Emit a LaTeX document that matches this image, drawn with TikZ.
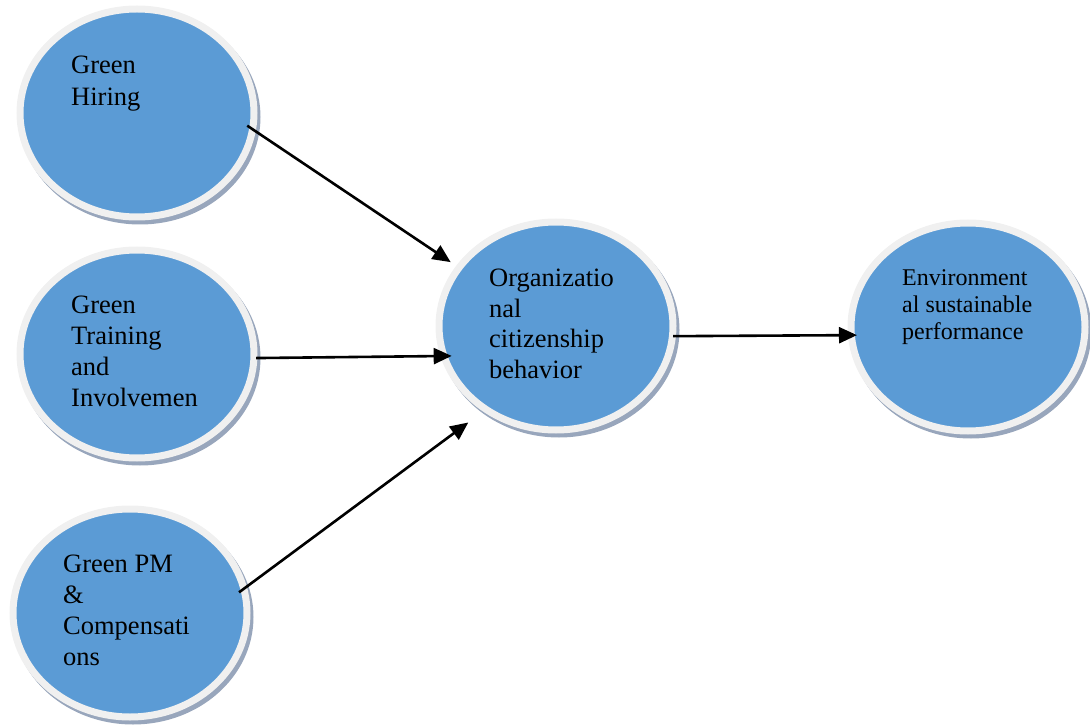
\documentclass[tikz,border=0pt]{standalone}
\usepackage{fontspec}
\setmainfont{Liberation Serif}
\usetikzlibrary{shapes.geometric,arrows.meta}
\definecolor{oblue}{HTML}{5B9BD5}
\definecolor{ringc}{HTML}{F0F0F0}
\definecolor{shadc}{HTML}{98A6BC}
\tikzset{
  ell/.style={ellipse, minimum width=234pt, minimum height=208pt, inner sep=0pt, outer sep=0pt,
    fill=oblue, draw=ringc, line width=7pt,
    preaction={fill=shadc, draw=shadc, transform canvas={shift={(3,4)}}}},
  lbl/.style={anchor=north west, inner sep=0pt, align=left, text=black,
    font=\fontsize{26.5}{31}\selectfont},
  lblsmall/.style={anchor=north west, inner sep=0pt, align=left, text=black,
    font=\fontsize{24}{27}\selectfont},
  arr/.style={line width=2.6pt, draw=black, -{Triangle[length=18pt,width=16pt]}}
}
\begin{document}
\begin{tikzpicture}[x=1pt,y=-1pt]
\useasboundingbox (0,0) rectangle (1090,727);
\node[ell] (e1) at (137,113) {};
\node[ell] (e2) at (137,354) {};
\node[ell] (e3) at (130,613) {};
\node[ell] (e4) at (556,326) {};
\node[ell] (e5) at (968,327) {};
\node[lbl, font=\fontsize{26.5}{32}\selectfont] (t1) at (71,56) {Green\\Hiring};
\node[lbl] (t2) at (71,296) {Green\\Training\\and\\Involvemen};
\node[lbl] (t3) at (63,555) {Green PM\\\&\\Compensati\\ons};
\node[lbl, font=\fontsize{26.5}{30.5}\selectfont] (t4) at (489,269) {Organizatio\\nal\\citizenship\\behavior};
\node[lblsmall] (t5) at (902,269) {Environment\\al sustainable\\performance};
\draw[arr, shorten <=-6.4pt, shorten >=10.1pt] (e1.-8.68) -- (e4.149.54);
\draw[arr, shorten <=2.2pt, shorten >=-7.7pt] (e2.-2.45) -- (e4.195.56);
\draw[arr, shorten <=-5.9pt, shorten >=22.1pt] (e3.12.2) -- (e4.230.5);
\draw[arr, shorten <=0.7pt, shorten >=-5.6pt] (e4.-5.9) -- (e5.184.44);
\end{tikzpicture}
\end{document}
